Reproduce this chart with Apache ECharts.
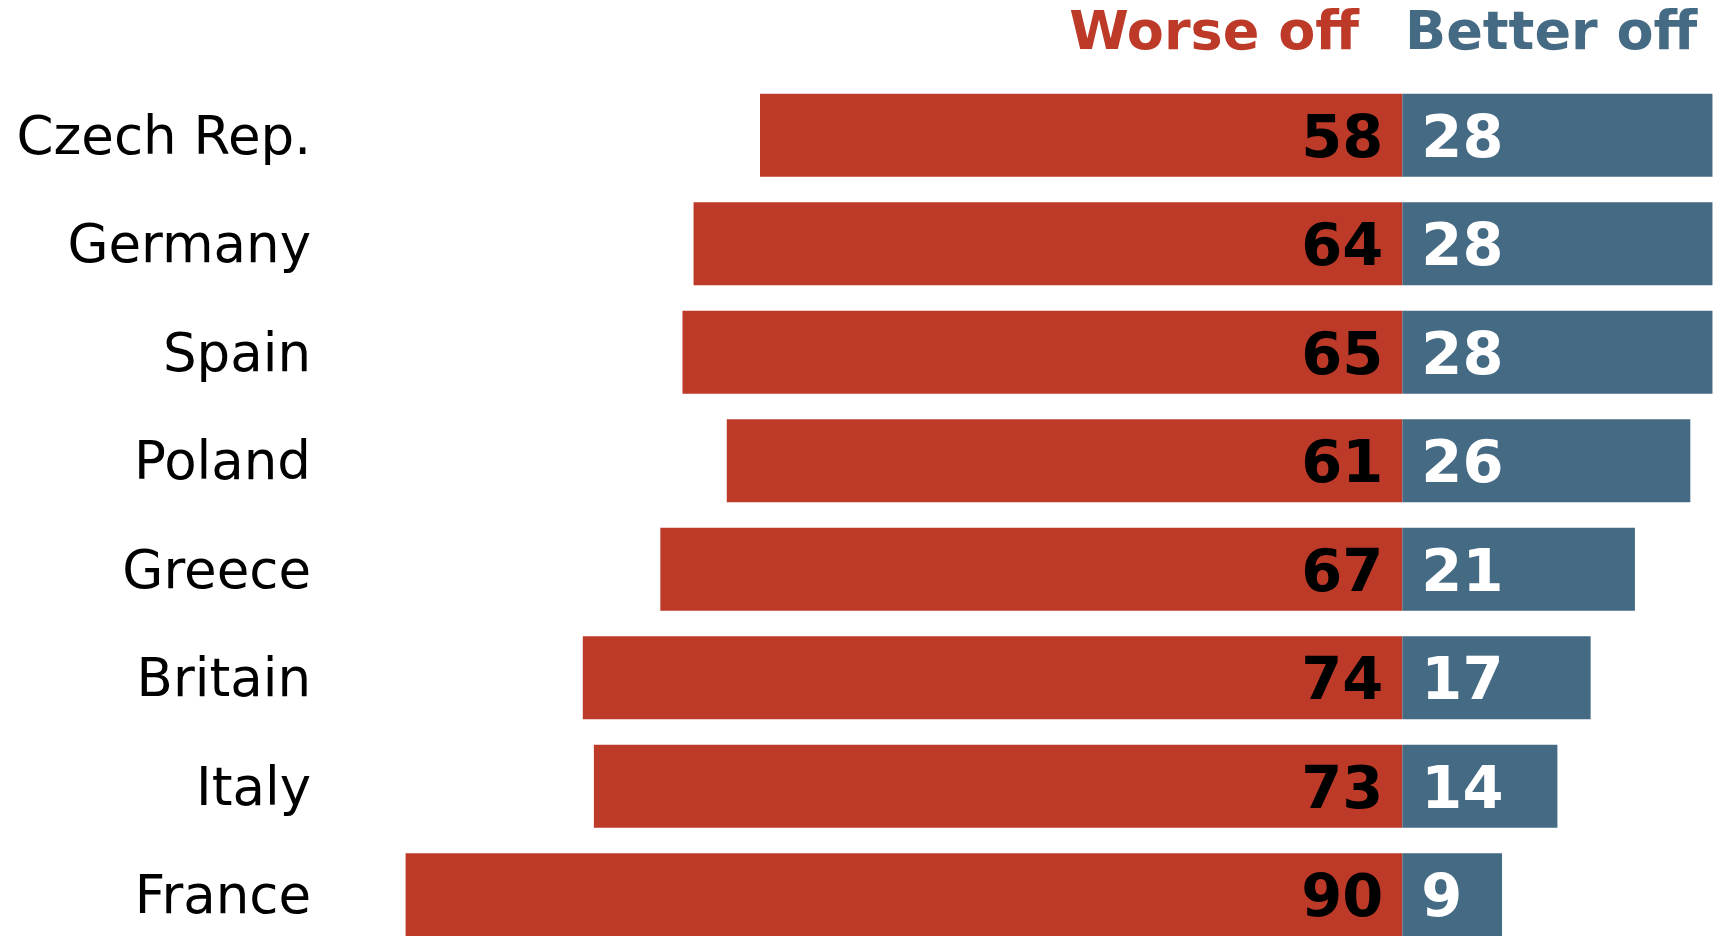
<!DOCTYPE html>
<html>
<head>
<meta charset="utf-8">
<script src="https://cdn.jsdelivr.net/npm/echarts@6/dist/echarts.min.js"></script>
<style>
  html, body { margin: 0; padding: 0; background: #fff; overflow: hidden; }
  #chart { width: 1718px; height: 952px; }
</style>
</head>
<body>
<div id="chart"></div>
<script>
// Share of people expecting to be worse off / better off, by country (%)
const countries = ['Czech Rep.', 'Germany', 'Spain', 'Poland', 'Greece', 'Britain', 'Italy', 'France'];
const worseOff = [58, 64, 65, 61, 67, 74, 73, 90];
const betterOff = [28, 28, 28, 26, 21, 17, 14, 9];

const RED = '#BE3A28';
const BLUE = '#456A84';
const FONT = 'DejaVu Sans';

const chart = echarts.init(document.getElementById('chart'), null, { renderer: 'canvas' });

chart.setOption({
  animation: false,
  backgroundColor: '#ffffff',
  grid: { left: 317, right: 0, top: 81, height: 868, containLabel: false },
  xAxis: {
    type: 'value',
    min: -98,
    max: 28.5,
    show: false
  },
  yAxis: {
    type: 'category',
    data: countries,
    inverse: true,
    axisLine: { show: false },
    axisTick: { show: false },
    splitLine: { show: false },
    axisLabel: {
      margin: 6,
      color: '#000',
      fontFamily: FONT,
      fontSize: 53,
      formatter: name => '{c|' + name + '}',
      rich: {
        c: {
          color: '#000',
          fontFamily: FONT,
          fontSize: 53,
          padding: [9, 0, 0, 0]
        }
      }
    }
  },
  graphic: [
    {
      type: 'text',
      x: 1359,
      y: 35,
      style: {
        text: 'Worse off',
        fill: RED,
        font: 'bold 54px "DejaVu Sans"',
        textAlign: 'right',
        textVerticalAlign: 'middle'
      }
    },
    {
      type: 'text',
      x: 1405,
      y: 35,
      style: {
        text: 'Better off',
        fill: BLUE,
        font: 'bold 54px "DejaVu Sans"',
        textAlign: 'left',
        textVerticalAlign: 'middle'
      }
    }
  ],
  series: [
    {
      name: 'Worse off',
      type: 'bar',
      stack: 'total',
      barWidth: 83,
      data: worseOff.map(v => -v),
      itemStyle: { color: RED },
      label: {
        show: true,
        position: 'insideRight',
        distance: 19,
        offset: [0, 6],
        color: '#000',
        fontFamily: FONT,
        fontWeight: 'bold',
        fontSize: 59,
        formatter: p => Math.abs(p.value)
      }
    },
    {
      name: 'Better off',
      type: 'bar',
      stack: 'total',
      barWidth: 83,
      data: betterOff,
      itemStyle: { color: BLUE },
      label: {
        show: true,
        position: 'insideLeft',
        distance: 19,
        offset: [0, 6],
        color: '#fff',
        fontFamily: FONT,
        fontWeight: 'bold',
        fontSize: 59
      }
    }
  ]
});
</script>
</body>
</html>
